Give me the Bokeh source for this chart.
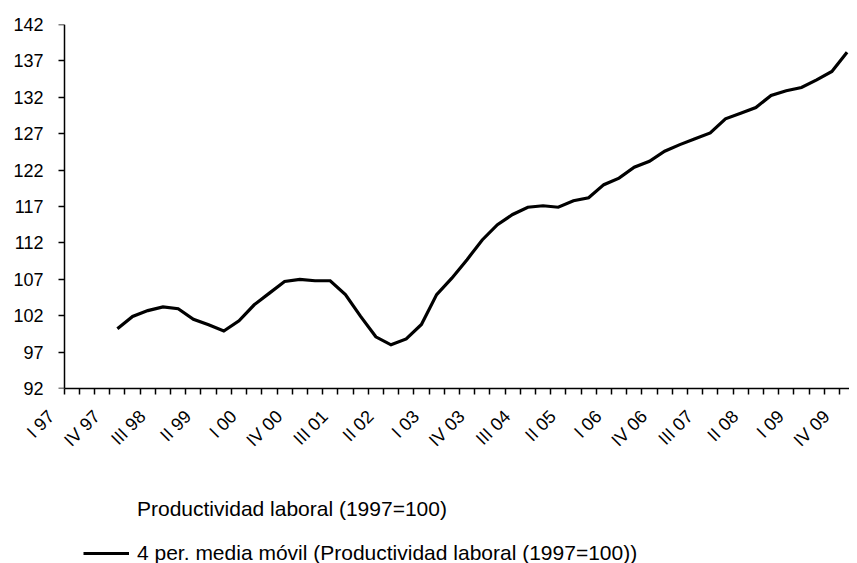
import math
from bokeh.plotting import figure
from bokeh.layouts import column
from bokeh.models import Range1d, FixedTicker, Legend, LegendItem, LinearAxis
from bokeh.embed import file_html
from bokeh.resources import INLINE

# Quarter categories (I 97 .. IV 09)
quarters = [
    "I 97", "II 97", "III 97", "IV 97",
    "I 98", "II 98", "III 98", "IV 98",
    "I 99", "II 99", "III 99", "IV 99",
    "I 00", "II 00", "III 00", "IV 00",
    "I 01", "II 01", "III 01", "IV 01",
    "I 02", "II 02", "III 02", "IV 02",
    "I 03", "II 03", "III 03", "IV 03",
    "I 04", "II 04", "III 04", "IV 04",
    "I 05", "II 05", "III 05", "IV 05",
    "I 06", "II 06", "III 06", "IV 06",
    "I 07", "II 07", "III 07", "IV 07",
    "I 08", "II 08", "III 08", "IV 08",
    "I 09", "II 09", "III 09", "IV 09",
]

# 4-period moving average, starting at IV 97 (index 3)
ma_start = 3
moving_avg = [
    100.2, 101.9, 102.7, 103.2, 102.95, 101.5, 100.75, 99.9, 101.3, 103.5,
    105.1, 106.7, 107.0, 106.8, 106.8, 104.9, 101.9, 99.1, 98.0, 98.8,
    100.8, 104.9, 107.15, 109.7, 112.4, 114.5, 115.9, 116.9, 117.1, 116.9,
    117.8, 118.2, 120.0, 120.9, 122.4, 123.2, 124.6, 125.5, 126.3, 127.1,
    129.05, 129.8, 130.6, 132.25, 132.9, 133.35, 134.4, 135.55, 138.2,
]

y_ticks = [92, 97, 102, 107, 112, 117, 122, 127, 132, 137, 142]
label_every = 3

series_label = "Productividad laboral (1997=100)"
ma_label = "4 per. media móvil (Productividad laboral (1997=100))"

FONT = "Liberation Sans"
W = 849
X_END = 51.66
X_PAD = 0.9          # room left of the y axis for the first rotated label
LABEL_SHIFT = -0.85  # rotated labels sit slightly left of their tick
LEFT = 50

p = figure(
    output_backend="svg",
    toolbar_location=None,
    width=W,
    height=480,
    min_border_left=LEFT,
    min_border_top=24,
    min_border_right=0,
    min_border_bottom=92,
    x_range=Range1d(-X_PAD, X_END),
    y_range=Range1d(y_ticks[0], y_ticks[-1]),
)
p.outline_line_color = None
p.grid.visible = False
p.background_fill_color = "white"
p.border_fill_color = "white"

x_ma = [i + ma_start + 0.5 for i in range(len(moving_avg))]
p.line(x=x_ma, y=moving_avg, line_color="black", line_width=3.2, line_join="miter")

# y tick labels (left panel)
p.yaxis.ticker = FixedTicker(ticks=y_ticks)
p.yaxis.axis_line_color = None
p.yaxis.major_tick_line_color = None
p.yaxis.minor_tick_line_color = None
p.yaxis.major_tick_out = 0
p.yaxis.major_tick_in = 0
p.yaxis.major_label_standoff = 7
p.yaxis.major_label_text_font = FONT
p.yaxis.major_label_text_font_size = "18px"
p.yaxis.major_label_text_color = "black"

# y axis line and tick marks, at the start of the first quarter (no labels)
y_rule = LinearAxis(
    fixed_location=0,
    ticker=FixedTicker(ticks=[], minor_ticks=y_ticks),
    axis_line_color="black",
    axis_line_width=1.5,
    major_tick_line_color=None,
    major_tick_out=0,
    major_tick_in=0,
    minor_tick_line_color="black",
    minor_tick_line_width=1.5,
    minor_tick_out=6,
    minor_tick_in=0,
    major_label_standoff=0,
)
p.add_layout(y_rule, "left")

# x axis line with a tick mark at every category boundary
bounds = list(range(len(quarters)))
p.xaxis.bounds = (0, X_END)
p.xaxis.ticker = FixedTicker(ticks=[], minor_ticks=bounds)
p.xaxis.axis_line_color = "black"
p.xaxis.axis_line_width = 1.5
p.xaxis.major_tick_line_color = None
p.xaxis.major_tick_out = 0
p.xaxis.major_tick_in = 0
p.xaxis.minor_tick_line_color = "black"
p.xaxis.minor_tick_line_width = 1.5
p.xaxis.minor_tick_out = 6
p.xaxis.minor_tick_in = 0
p.xaxis.major_label_standoff = 0

# rotated quarter labels, every 3rd quarter
label_idx = [i for i in bounds if i % label_every == 0]
label_pos = [i + LABEL_SHIFT for i in label_idx]
lab_axis = LinearAxis(
    ticker=FixedTicker(ticks=label_pos),
    major_label_overrides={pos: quarters[i] for pos, i in zip(label_pos, label_idx)},
    major_label_orientation=math.pi / 4,
    axis_line_color=None,
    major_tick_line_color=None,
    minor_tick_line_color=None,
    major_tick_out=0,
    major_tick_in=0,
    major_label_standoff=19,
    major_label_text_font=FONT,
    major_label_text_font_size="18px",
    major_label_text_color="black",
)
p.add_layout(lab_axis, "below")

# Legend area (below the chart)
lg = figure(
    output_backend="svg",
    toolbar_location=None,
    width=W,
    height=83,
    min_border=0,
    min_border_left=0,
    min_border_right=0,
    min_border_top=0,
    min_border_bottom=0,
    x_axis_location=None,
    y_axis_location=None,
    x_range=Range1d(0, 1),
    y_range=Range1d(0, 1),
)
lg.grid.visible = False
lg.outline_line_color = None
lg.background_fill_color = "white"
lg.border_fill_color = "white"
# same series (out of this strip's view), used only for the legend keys
k_series = lg.line(x=x_ma, y=moving_avg, line_alpha=0)
k_ma = lg.line(x=x_ma, y=moving_avg, line_color="black", line_width=3.2)

legend = Legend(
    items=[
        LegendItem(label=series_label, renderers=[k_series]),
        LegendItem(label=ma_label, renderers=[k_ma]),
    ],
    location=(83 - LEFT, -2),
    orientation="vertical",
    glyph_width=46,
    glyph_height=24,
    label_height=24,
    label_standoff=8,
    spacing=20,
    padding=0,
    margin=0,
    border_line_color=None,
    background_fill_alpha=0,
    label_text_font=FONT,
    label_text_font_size="21px",
    label_text_color="black",
)
lg.add_layout(legend, "center")

layout = column(p, lg, spacing=0)
open("out.html", "w").write(file_html(layout, INLINE))
